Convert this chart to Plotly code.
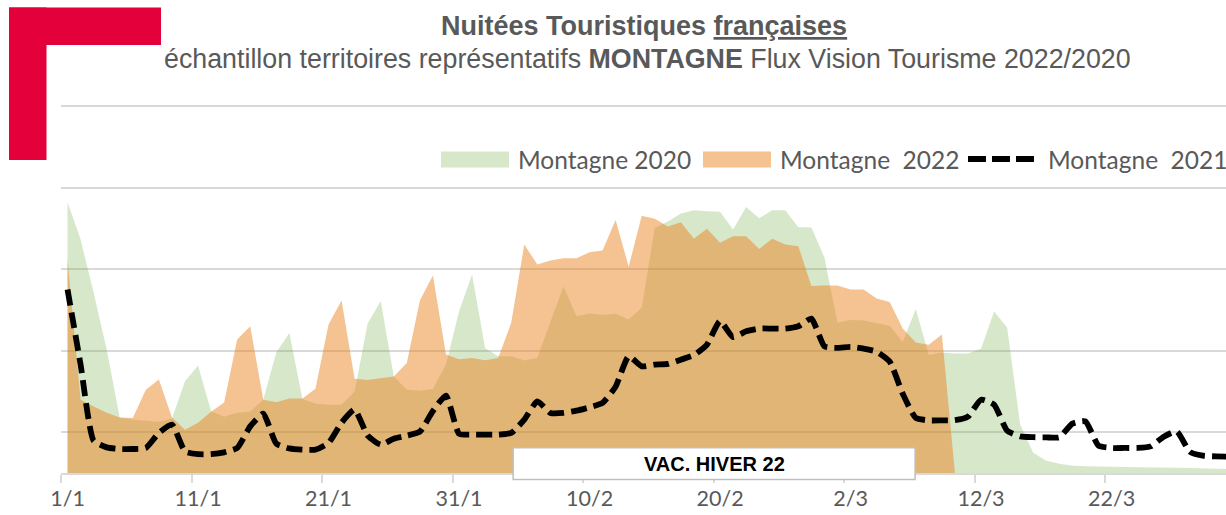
import plotly.graph_objects as go
import pandas as pd

# ---------------- data ----------------
days = pd.date_range("2022-01-01", "2022-03-31", freq="D")
day_labels = [f"{d.day}/{d.month}" for d in days]

tick_pos = [0, 10, 20, 30, 40, 50, 60, 70, 80]
tick_labels = ["1/1", "11/1", "21/1", "31/1", "10/2", "20/2", "2/3", "12/3", "22/3"]

name_2020 = "Montagne 2020"
name_2022 = "Montagne  2022"
name_2021 = "Montagne  2021"

montagne_2020 = [332.0, 286.3, 220.9, 151.3, 67.9, 65.4, 64.2, 62.9, 66.6, 112.4,
                 131.7, 75.6, 69.1, 74.0, 75.2, 89.9, 148.0, 171.8, 90.6, 85.0,
                 83.8, 83.8, 99.8, 183.2, 211.0, 118.2, 102.2, 101.0, 103.1, 132.9,
                 197.9, 243.3, 152.9, 143.3, 143.1, 137.8, 140.9, 184.4, 228.6, 192.1,
                 195.5, 193.9, 195.2, 188.1, 202.5, 300.4, 308.3, 318.2, 322.1, 321.0,
                 320.2, 298.5, 326.1, 312.3, 322.1, 322.1, 301.3, 301.0, 264.2, 184.1,
                 187.5, 186.9, 183.2, 180.4, 160.5, 201.2, 144.8, 147.6, 146.4, 146.4,
                 152.3, 197.9, 178.3, 59.3, 24.9, 15.1, 11.4, 9.0, 8.3, 7.7,
                 7.4, 7.4, 7.1, 7.1, 6.9, 6.5, 6.1, 5.6, 5.3, 4.9]

montagne_2022 = [261.7, 89.9, 81.4, 74.0, 67.9, 67.5, 102.2, 114.5, 67.9, 53.1,
                 61.7, 75.2, 86.3, 163.6, 179.9, 89.9, 86.6, 91.2, 91.2, 103.4,
                 182.0, 211.4, 115.7, 113.9, 116.3, 118.2, 135.0, 211.4, 242.1, 145.2,
                 139.6, 140.9, 138.2, 141.1, 184.1, 280.1, 255.6, 260.5, 263.3, 263.3,
                 270.7, 272.8, 310.2, 252.8, 315.3, 311.7, 302.2, 307.5, 287.1, 299.4,
                 282.2, 290.3, 290.3, 274.6, 287.1, 280.1, 278.0, 229.4, 229.8, 229.8,
                 224.9, 224.9, 213.9, 209.8, 177.1, 159.9, 157.4, 169.7, 0.0]

montagne_2021 = [224.9, 132.9, 39.6, 31.4, 29.4, 29.4, 30.7, 49.1, 59.3, 26.5,
                 23.1, 23.1, 25.3, 30.7, 57.2, 72.8, 36.0, 30.1, 28.6, 28.6,
                 36.8, 61.7, 77.7, 45.8, 34.7, 42.1, 45.8, 50.7, 76.0, 95.0,
                 48.2, 47.0, 47.0, 47.0, 49.1, 65.4, 87.9, 73.6, 73.6, 76.4,
                 80.5, 85.9, 105.9, 143.1, 130.8, 132.9, 133.7, 139.0, 144.5, 157.4,
                 186.3, 166.6, 173.7, 177.1, 177.1, 177.1, 179.9, 189.3, 155.3, 153.4,
                 154.6, 152.5, 148.8, 136.6, 97.3, 67.5, 64.5, 64.5, 64.8, 69.1,
                 89.9, 83.8, 51.9, 44.9, 43.9, 43.7, 43.7, 60.5, 63.3, 33.5,
                 30.7, 30.7, 30.7, 32.6, 44.5, 51.0, 26.1, 21.2, 20.4, 20.0]

grid_vals = [50, 150, 250, 350, 450]

vac_label = "VAC. HIVER 22"
vac_start, vac_end = 34.15, 64.95   # day index span of the winter-holiday box

# ---------------- styling ----------------
W, H = 1226, 515
ML, MR, MT, MB = 61, 0, 99, 42
PW, PH = W - ML - MR, H - MT - MB
DAY_PX = 13.05
UNIT_PX = (473.0 - 106.0) / 450.0
Y_TOP = PH / UNIT_PX

def px_x(px):
    return (px - ML) / PW

def px_y(py):
    return (H - MB - py) / PH

GREEN = "rgba(112,173,71,0.29)"
ORANGE = "rgba(234,128,26,0.48)"
GREY_TXT = "#595959"
GRID = "#d9d9d9"
DASH = "16px,7px"

x_all = list(range(len(days)))

fig = go.Figure()
fig.add_trace(go.Scatter(
    x=x_all[:len(montagne_2020)], y=montagne_2020, name=name_2020,
    mode="lines", line=dict(width=0), fill="tozeroy", fillcolor=GREEN,
    text=day_labels, hoverinfo="text+y", showlegend=False))
fig.add_trace(go.Scatter(
    x=x_all[:len(montagne_2022)], y=montagne_2022, name=name_2022,
    mode="lines", line=dict(width=0), fill="tozeroy", fillcolor=ORANGE,
    text=day_labels, hoverinfo="text+y", showlegend=False))
fig.add_trace(go.Scatter(
    x=x_all[:len(montagne_2021)], y=montagne_2021, name=name_2021,
    mode="lines", line=dict(color="black", width=5.8, dash=DASH, shape="spline", smoothing=0.5),
    text=day_labels, hoverinfo="text+y", showlegend=False))

shapes = []
# red corner logo
RED = "#e4003a"
shapes.append(dict(type="rect", xref="paper", yref="paper",
                   x0=px_x(9), x1=px_x(161), y0=px_y(45), y1=px_y(7.5),
                   fillcolor=RED, line=dict(width=0), layer="above"))
shapes.append(dict(type="rect", xref="paper", yref="paper",
                   x0=px_x(9), x1=px_x(46.5), y0=px_y(160), y1=px_y(7.5),
                   fillcolor=RED, line=dict(width=0), layer="above"))
# winter holiday box
shapes.append(dict(type="rect", xref="x", yref="paper",
                   x0=vac_start, x1=vac_end, y0=px_y(479.5), y1=px_y(447.7),
                   fillcolor="white", line=dict(color="#bfbfbf", width=1.5), layer="above"))

# custom legend
LEG_Y = 159
shapes.append(dict(type="rect", xref="paper", yref="paper",
                   x0=px_x(441), x1=px_x(509), y0=px_y(167.5), y1=px_y(151.5),
                   fillcolor=GREEN, line=dict(width=0), layer="above"))
shapes.append(dict(type="rect", xref="paper", yref="paper",
                   x0=px_x(703), x1=px_x(771), y0=px_y(167.5), y1=px_y(151.5),
                   fillcolor=ORANGE, line=dict(width=0), layer="above"))
shapes.append(dict(type="line", xref="paper", yref="paper",
                   x0=px_x(968), x1=px_x(1034), y0=px_y(LEG_Y), y1=px_y(LEG_Y),
                   line=dict(color="black", width=5.8, dash="18px,6px"), layer="above"))

def nb(s):
    return s.replace("  ", " \u00a0")

LEG_FONT = dict(family="Lato", size=24.5, color=GREY_TXT)
annotations = [
    dict(text="<b>Nuitées Touristiques <u>françaises</u></b>", xref="paper", yref="paper",
         x=px_x(644.5), y=px_y(26), xanchor="center", yanchor="middle", showarrow=False,
         font=dict(family="Liberation Sans, Arial", size=27, color=GREY_TXT)),
    dict(text="échantillon territoires représentatifs <b>MONTAGNE</b> Flux Vision Tourisme 2022/2020",
         xref="paper", yref="paper", x=px_x(647.5), y=px_y(59.5), xanchor="center", yanchor="middle",
         showarrow=False, font=dict(family="Liberation Sans, Arial", size=26.8, color=GREY_TXT)),
    dict(text=nb(name_2020), xref="paper", yref="paper", x=px_x(516), y=px_y(LEG_Y),
         xanchor="left", yanchor="middle", showarrow=False, font=LEG_FONT),
    dict(text=nb(name_2022), xref="paper", yref="paper", x=px_x(778), y=px_y(LEG_Y),
         xanchor="left", yanchor="middle", showarrow=False, font=LEG_FONT),
    dict(text=nb(name_2021), xref="paper", yref="paper", x=px_x(1046), y=px_y(LEG_Y),
         xanchor="left", yanchor="middle", showarrow=False, font=LEG_FONT),
    dict(text="<b>" + vac_label + "</b>", xref="x", yref="paper",
         x=(vac_start + vac_end) / 2, y=px_y(464), xanchor="center", yanchor="middle",
         showarrow=False, font=dict(family="Liberation Sans, Arial", size=20, color="black")),
]

fig.update_layout(
    width=W, height=H,
    margin=dict(l=ML, r=MR, t=MT, b=MB, pad=0),
    paper_bgcolor="white", plot_bgcolor="white",
    showlegend=False,
    shapes=shapes, annotations=annotations,
    xaxis=dict(
        range=[-0.5, -0.5 + PW / DAY_PX],
        tickmode="array", tickvals=tick_pos, ticktext=tick_labels,
        ticks="", showgrid=False, zeroline=False,
        showline=True, linecolor=GRID, linewidth=1.5,
        tickfont=dict(family="Lato", size=21.5, color=GREY_TXT),
        ticklabelstandoff=5,
        minor=dict(tickmode="array", tickvals=[-0.5 + 10 * k for k in range(10)],
                   ticks="outside", ticklen=8, tickcolor=GRID, tickwidth=1.5, showgrid=False),
    ),
    yaxis=dict(
        range=[0, Y_TOP], tickmode="array", tickvals=grid_vals,
        showticklabels=False, showgrid=True, gridcolor=GRID, gridwidth=1.5,
        zeroline=False, showline=False, ticks="",
    ),
)

fig.write_html("out.html",
               config={"displayModeBar": False},
               post_script="document.body.style.margin='0';document.body.style.overflow='hidden';")
